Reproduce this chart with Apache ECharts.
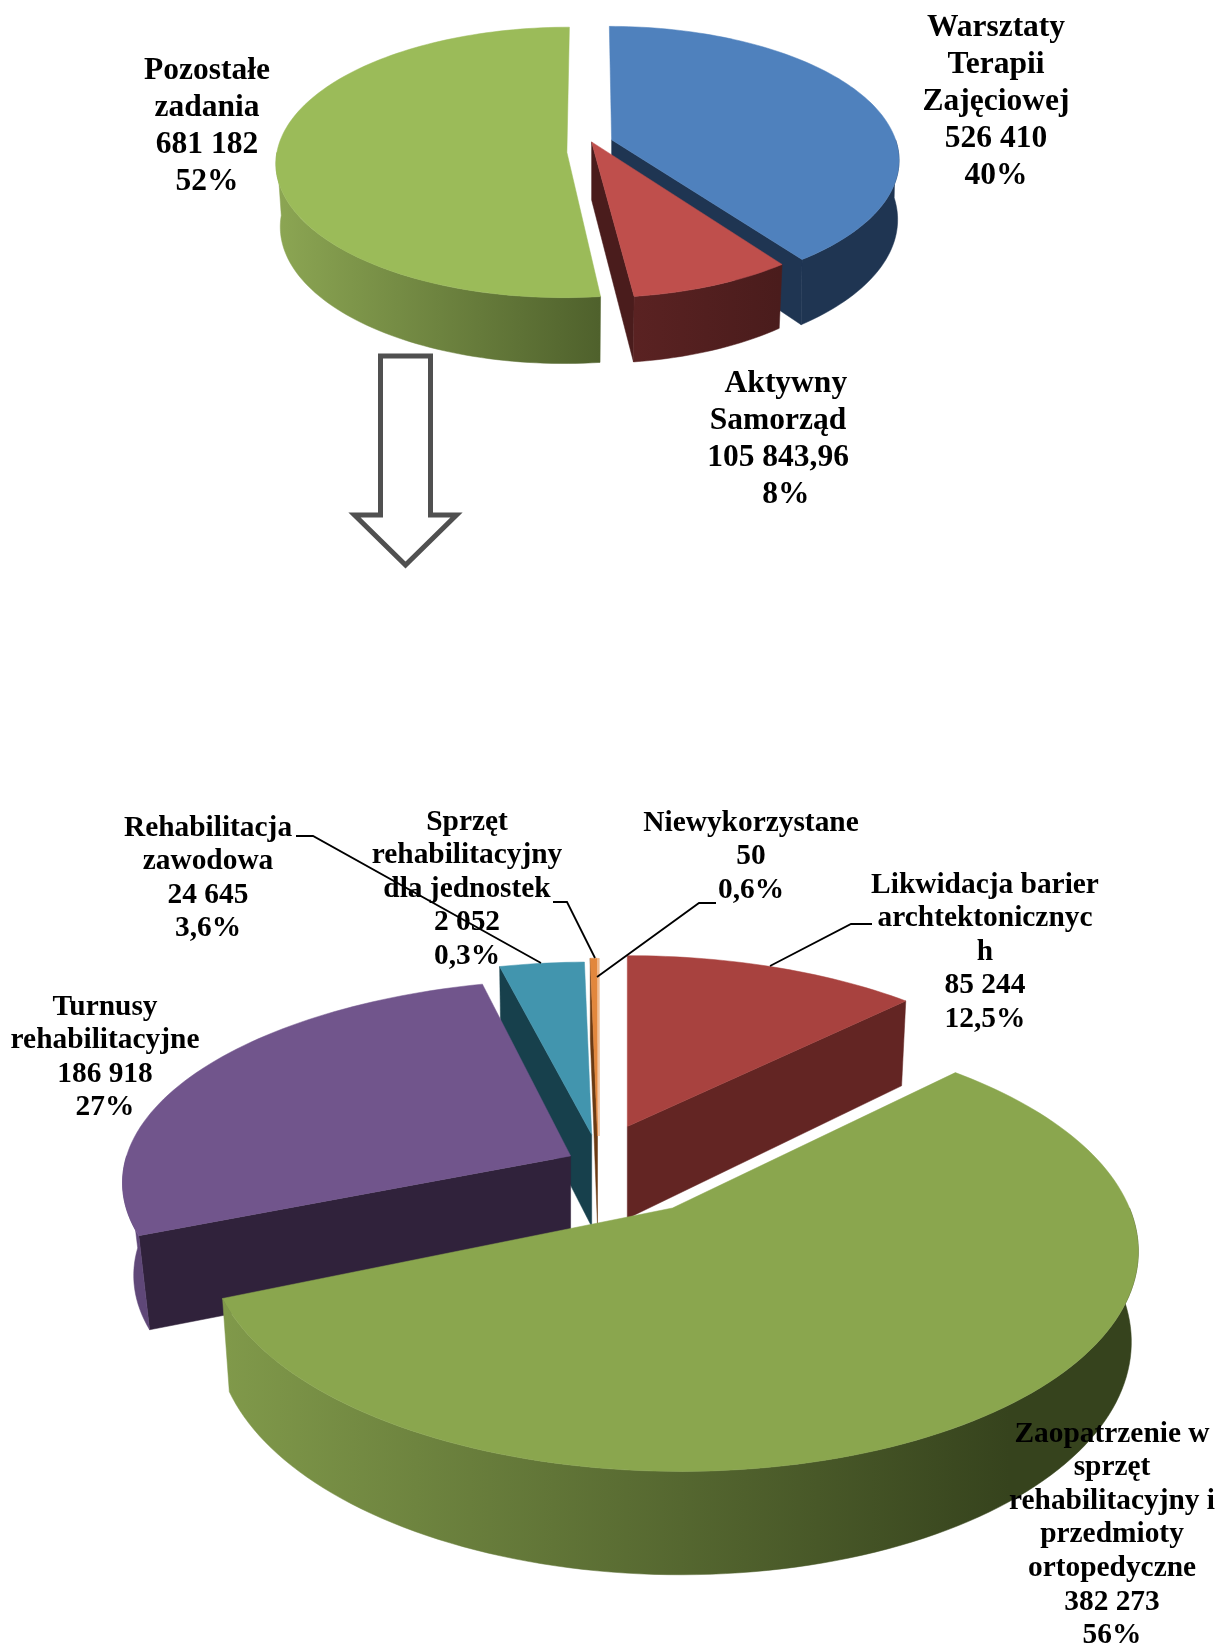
<!DOCTYPE html>
<html lang="pl">
<head>
    <meta charset="UTF-8">
    <title>Wykresy</title>
    <script src="https://cdn.jsdelivr.net/npm/echarts@6/dist/echarts.min.js"></script>
    <style>
        html, body { margin: 0; padding: 0; background: #fff; }
        #main { width: 1220px; height: 1647px; }
    </style>
</head>
<body>
    <div id="main"></div>
    <script type="text/javascript">
        // data
        const topNames = ['Warsztaty Terapii Zajęciowej', 'Aktywny Samorząd', 'Pozostałe zadania'];
        const topValues = [526410, 105843.96, 681182];
        const bottomNames = ['Likwidacja barier archtektonicznych', 'Zaopatrzenie w sprzęt rehabilitacyjny i przedmioty ortopedyczne',
            'Turnusy rehabilitacyjne', 'Rehabilitacja zawodowa', 'Sprzęt rehabilitacyjny dla jednostek', 'Niewykorzystane'];
        const bottomValues = [85244, 382273, 186918, 24645, 2052, 50];

        const topLabels = [
            ['Warsztaty\nTerapii\nZajęciowej\n526 410\n40%', 996, 28],
            ['\u00a0\u00a0Aktywny\nSamorząd\n105 843,96\n\u00a0\u00a08%', 778, 384],
            ['Pozostałe\nzadania\n681 182\n52%', 207, 71]
        ];
        const bottomLabels = [
            ['Likwidacja barier\narchtektonicznyc\nh\n85 244\n12,5%', 985, 885],
            ['Zaopatrzenie w\nsprzęt\nrehabilitacyjny i\nprzedmioty\nortopedyczne\n382 273\n56%', 1112, 1434],
            ['Turnusy\nrehabilitacyjne\n186 918\n27%', 105, 1007],
            ['Rehabilitacja\nzawodowa\n24 645\n3,6%', 208, 828],
            ['Sprzęt\nrehabilitacyjny\ndla jednostek\n2 052\n0,3%', 467, 822],
            ['Niewykorzystane\n50\n0,6%', 751, 823]
        ];
        const leaders = [
            [[296, 836], [313, 836], [541, 963]],
            [[553, 902], [567, 902], [595, 958]],
            [[716, 903], [699, 903], [597, 977]],
            [[872, 924], [851, 924], [770, 966]]
        ];

        // each slice is pulled out by hand: apex, radii, perspective, shear, rim shrink, wall height, colours
        const topLayout = [
            { cx: 611.6, cy: 139.8, rx: 284, ry: 130, p: 0.146, sk: 0.02, shrink: 0.995, d: 58, z: 1, top: '#4f81bd', face: '#1f3552', wall: ['#1f3552', '#1f3552'] },
            { cx: 591.6, cy: 141.9, rx: 283, ry: 133, p: 0.146, sk: 0.025, shrink: 0.985, d: 58, z: 2, top: '#bf4f4c', face: '#4a1c1c', wall: ['#5a2222', '#4a1c1c'], wallX: [634, 780] },
            { cx: 566.9, cy: 152.4, rx: 290, ry: 134.5, p: 0.074, sk: -0.02, shrink: 0.985, d: 63, z: 3, top: '#9bbb59', face: '#4f612c', wall: ['#8ca653', '#4f612c'], wallX: [276, 600] }
        ];
        const bottomLayout = [
            { cx: 627.3, cy: 1126.5, rx: 436, ry: 197, p: 0.153, sk: 0, shrink: 0.985, d: 92, z: 3, top: '#a8423f', face: '#632523', wall: ['#632523', '#632523'] },
            { cx: 672.5, cy: 1208, rx: 457, ry: 216, p: 0.18, sk: 0.03, shrink: 0.985, d: 88, z: 5, top: '#8aa64e', face: '#4f612c', wall: ['#80994a', '#36431d'], wallX: [225, 1009] },
            { cx: 570.6, cy: 1155.9, rx: 444, ry: 196, p: 0.11, sk: -0.057, shrink: 0.975, d: 92, z: 4, top: '#71558c', face: '#30223b', wall: ['#5f4778', '#5f4778'] },
            { cx: 591.7, cy: 1134.6, rx: 433, ry: 199, p: 0.153, sk: 0, shrink: 0.985, d: 92, z: 2, top: '#4295ae', face: '#17404c', wall: ['#17404c', '#17404c'] },
            { cx: 597.5, cy: 1136, rx: 433, ry: 205, p: 0.153, sk: 0, shrink: 0.985, d: 90, z: 1, top: '#e2873d', face: '#6b3a13', wall: ['#6b3a13', '#6b3a13'] },
            { cx: 599, cy: 1136, rx: 433, ry: 205, p: 0.153, sk: 0, shrink: 0.985, d: 90, z: 0, top: '#e2873d', face: '#6b3a13', wall: ['#6b3a13', '#6b3a13'] }
        ];

        const DEG = Math.PI / 180;

        function point(L, deg, depth, radius) {
            const u = Math.sin(deg * DEG) * radius;
            const v = -Math.cos(deg * DEG) * radius;
            const s = 1 / (1 - L.p * v);
            const k = depth ? L.shrink : 1;
            const dy = L.ry * v * s * k;
            return [L.cx + L.rx * u * s * k + L.sk * dy, L.cy + dy + depth * s];
        }

        function arc(L, from, to, depth) {
            const pts = [];
            const n = Math.max(2, Math.ceil((to - from) / 1.5));
            for (let i = 0; i <= n; i++) {
                pts.push(point(L, from + (to - from) * i / n, depth, 1));
            }
            return pts;
        }

        function poly(points, fill, z2) {
            return { type: 'polygon', z2: z2, shape: { points: points }, style: { fill: fill, stroke: fill, lineWidth: 0.5 } };
        }

        function pieRenderer(values, layout) {
            const total = values.reduce(function (a, b) { return a + b; }, 0);
            return function (params, api) {
                const i = params.dataIndex;
                const L = layout[i];
                let before = 0;
                for (let j = 0; j < i; j++) before += values[j];
                const a0 = before / total * 360;
                const a1 = a0 + api.value(0) / total * 360;
                const children = [];
                const z = L.z * 10;

                // cut faces, only those turned towards the viewer
                const faceAt = function (deg) {
                    return poly([point(L, 0, 0, 0), point(L, deg, 0, 1), point(L, deg, L.d, 1), point(L, 0, L.d, 0)], L.face, z);
                };
                if (Math.sin(a0 * DEG) < -0.001) children.push(faceAt(a0));
                if (Math.sin(a1 * DEG) > 0.001) children.push(faceAt(a1));

                // outer wall, front half of the rim
                const w0 = Math.max(a0, 90);
                const w1 = Math.min(a1, 270);
                if (w1 > w0) {
                    const rim = arc(L, w0, w1, 0);
                    const low = arc(L, w0, w1, L.d).reverse();
                    const fill = !L.wallX ? L.wall[0] : {
                        type: 'linear', global: true, x: L.wallX[0], y: 0, x2: L.wallX[1], y2: 0,
                        colorStops: [{ offset: 0, color: L.wall[0] }, { offset: 1, color: L.wall[1] }]
                    };
                    children.push(poly(rim.concat(low), fill, z + 1));
                }

                // top surface
                children.push(poly([point(L, 0, 0, 0)].concat(arc(L, a0, a1, 0)), L.top, z + 2));
                return { type: 'group', children: children };
            };
        }

        function textElements(labels, font, lineHeight) {
            return labels.map(function (l) {
                return {
                    type: 'text', z: 100, x: l[1], y: l[2] - lineHeight / 2,
                    style: { text: l[0], font: font, lineHeight: lineHeight, fill: '#000', textAlign: 'center', textVerticalAlign: 'top' }
                };
            });
        }

        var myChart = echarts.init(document.getElementById('main'), null, { renderer: 'canvas' });

        var elements = textElements(topLabels, 'bold 31.5px "Liberation Serif"', 37)
            .concat(textElements(bottomLabels, 'bold 29.4px "Liberation Serif"', 33.6));

        leaders.forEach(function (pts) {
            elements.push({ type: 'polyline', z: 99, shape: { points: pts }, style: { fill: 'none', stroke: '#000', lineWidth: 1.8 } });
        });

        // arrow between the two pies
        elements.push({
            type: 'polygon', z: 99,
            shape: { points: [[380.5, 356], [430.5, 356], [430.5, 515], [456.5, 515], [405.5, 565], [354.5, 515], [380.5, 515]] },
            style: { fill: '#fff', stroke: '#505050', lineWidth: 5, lineJoin: 'miter' }
        });

        var option = {
            animation: false,
            backgroundColor: '#fff',
            tooltip: { show: false },
            graphic: { elements: elements },
            series: [
                {
                    type: 'custom', name: 'top', coordinateSystem: 'none',
                    renderItem: pieRenderer(topValues, topLayout),
                    data: topValues.map(function (v, i) { return { name: topNames[i], value: [v] }; })
                },
                {
                    type: 'custom', name: 'bottom', coordinateSystem: 'none',
                    renderItem: pieRenderer(bottomValues, bottomLayout),
                    data: bottomValues.map(function (v, i) { return { name: bottomNames[i], value: [v] }; })
                }
            ]
        };
        myChart.setOption(option);
    </script>
</body>
</html>
